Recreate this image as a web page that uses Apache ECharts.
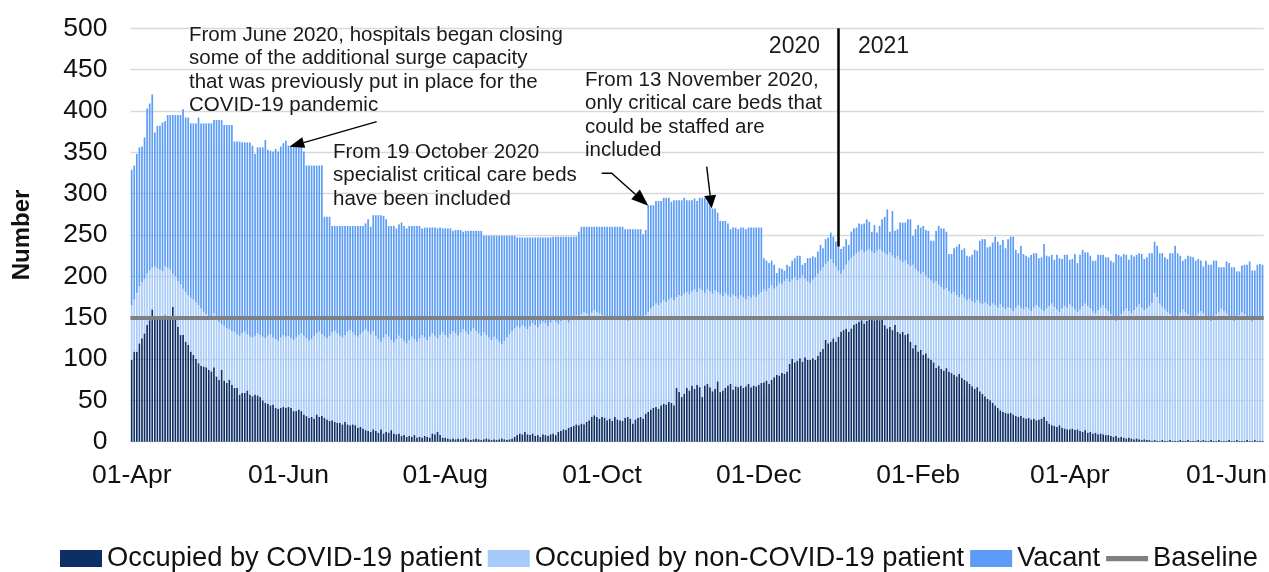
<!DOCTYPE html>
<html>
<head>
<meta charset="utf-8">
<title>Critical care beds</title>
<script src="https://cdn.jsdelivr.net/npm/echarts@6/dist/echarts.min.js"></script>
<style>
  html, body { margin: 0; padding: 0; background: #fff; }
  #chart { width: 1269px; height: 572px; }
</style>
</head>
<body>
<div id="chart"></div>
<script>
// first day of the daily series, and the month labels shown on the x axis
const startDate = [2020, 3, 1];
const tickLabels = ["01-Apr", "01-Jun", "01-Aug", "01-Oct", "01-Dec", "01-Feb"];
const baselineValue = 150;

// beds occupied by COVID-19 patients (one line per month, Apr 2020 - Jun 2021)
const covid = [
  99,109,109,119,125,131,141,147,160,149,150,152,151,153,150,148,163,150,139,129,129,121,117,109,105,100,95,92,91,90,
  87,85,90,79,75,87,74,71,75,69,65,65,57,59,59,62,57,55,57,56,54,50,47,46,44,45,41,40,41,42,41,
  42,41,37,37,39,37,33,31,29,30,28,33,30,31,29,27,25,26,24,23,23,21,24,21,20,21,20,17,18,16,
  14,13,12,15,13,11,15,10,12,11,14,10,9,10,7,8,6,7,6,8,5,6,5,7,6,5,10,9,12,8,5,
  5,4,3,4,3,4,3,4,5,3,2,3,4,3,2,3,4,3,2,3,2,3,4,3,2,3,4,6,8,10,9,
  12,9,8,10,7,8,6,9,8,7,9,10,8,12,13,15,14,17,18,19,21,20,22,21,24,26,30,32,30,28,
  30,29,26,28,25,30,27,26,25,29,30,28,22,27,29,30,28,34,36,39,41,42,40,44,46,45,48,47,44,65,60,
  54,58,65,62,68,64,69,66,54,68,70,66,61,64,73,60,62,65,68,70,63,67,66,68,65,67,70,66,68,67,
  69,71,72,74,70,75,78,81,80,83,82,85,94,100,96,98,101,97,102,99,99,101,99,104,109,112,123,119,121,125,121,
  127,133,135,137,133,137,141,143,145,147,143,146,148,149,147,150,147,149,141,137,139,135,141,133,131,133,129,131,121,113,117,
  109,111,105,107,101,99,96,89,92,88,86,89,85,83,81,79,82,77,75,73,70,67,64,66,61,58,55,52,
  50,47,44,41,38,36,35,34,35,33,31,30,31,29,28,29,27,28,26,27,28,30,25,22,20,19,18,20,17,16,15,
  15,16,14,15,13,12,14,11,12,10,11,9,10,9,8,8,7,6,7,5,6,5,4,5,4,3,4,3,2,3,
  2,2,1,2,1,1,2,1,1,2,1,1,1,2,1,1,2,1,1,1,2,1,2,1,1,2,1,1,2,1,1,
  1,2,1,1,2,1,1,1,2,1,1,2,1,1,1
];

// all occupied beds (COVID-19 + non-COVID-19)
const occupied = [
  165,172,180,188,193,197,203,207,211,212,210,208,206,212,210,208,203,200,194,190,185,181,177,174,172,169,165,161,157,154,
  152,150,155,148,145,142,140,137,136,134,133,130,128,131,133,130,127,126,128,131,129,127,125,128,130,126,124,122,126,129,127,
  128,125,123,126,129,131,128,125,122,124,128,131,133,130,127,125,128,132,134,131,128,126,129,133,135,132,129,127,130,133,
  136,133,130,134,128,124,121,126,130,127,123,120,124,128,125,122,119,123,127,124,121,125,129,126,123,127,131,128,125,129,132,
  129,126,130,134,131,128,132,136,133,130,134,137,134,131,128,132,129,126,123,127,124,121,118,122,126,130,134,137,140,138,141,
  139,136,140,143,141,138,142,145,143,140,144,147,145,142,146,149,147,144,148,151,153,150,154,157,155,152,156,159,157,155,
  153,150,152,149,151,148,150,147,152,150,146,149,151,148,150,147,149,153,157,161,164,167,165,168,171,169,172,174,171,175,177,
  176,179,181,178,182,184,181,185,183,180,184,182,179,183,181,178,176,180,177,175,178,176,173,177,175,172,176,174,177,175,
  178,181,184,182,186,189,185,188,192,190,194,197,193,196,199,195,198,201,197,194,192,196,199,203,207,211,215,218,221,216,212,
  207,203,208,214,219,222,225,228,230,232,229,231,233,230,228,231,233,230,228,226,229,225,222,224,220,217,219,215,212,214,209,
  206,203,205,201,198,195,192,194,190,187,184,186,182,179,181,177,175,178,174,171,173,170,168,171,168,166,169,166,
  164,167,165,162,166,163,160,163,161,158,162,165,162,160,163,161,158,162,165,163,160,158,161,164,167,163,160,157,161,164,162,
  166,163,160,157,160,164,167,164,161,158,155,159,162,165,161,158,154,150,146,150,154,158,161,158,155,159,163,166,162,159,
  161,164,168,180,175,167,163,160,157,154,151,148,152,156,160,157,154,150,147,151,155,158,155,152,149,146,150,154,157,161,158,
  155,152,149,146,150,153,157,154,151,148,145,149,152,147,150
];

// total critical care beds (occupied + vacant)
const capacity = [
  329,334,348,356,357,368,403,409,420,374,382,382,386,388,395,395,395,395,395,395,402,392,392,385,385,385,392,385,385,385,
  385,385,389,389,389,389,383,383,383,383,363,363,363,362,362,362,362,358,348,356,356,356,365,353,352,351,354,351,357,361,364,
  358,357,357,357,357,357,351,334,334,334,334,334,334,334,272,272,272,261,261,261,261,261,261,261,261,261,261,261,261,261,
  264,269,260,274,274,274,274,273,269,261,261,261,258,263,265,261,258,261,261,261,261,261,258,259,259,259,259,259,258,259,258,
  258,258,258,255,256,256,256,254,255,255,255,255,255,255,255,249,249,249,249,249,249,249,249,249,249,249,249,249,247,247,247,
  247,247,247,247,247,247,247,247,247,247,247,248,248,248,248,248,248,248,248,248,248,254,260,260,260,260,260,260,260,260,
  260,260,260,260,260,260,260,260,260,257,257,257,257,257,257,257,251,256,286,286,286,291,291,291,295,295,295,290,292,292,292,
  292,295,292,292,292,294,291,295,295,295,290,287,282,282,277,267,267,267,264,257,259,259,257,259,259,257,259,259,259,259,
  259,259,222,219,216,219,214,204,210,209,207,214,212,219,222,225,225,214,216,222,222,224,223,230,238,234,245,247,253,248,242,
  236,233,236,245,238,254,258,259,264,263,264,269,266,254,262,253,261,269,272,281,254,279,255,257,265,265,265,269,269,249,257,
  262,259,261,256,255,243,243,255,261,258,258,254,227,227,234,236,239,232,234,225,224,226,232,231,243,245,245,235,
  236,241,248,242,238,244,234,245,248,248,232,228,237,227,225,223,226,228,228,222,223,239,225,224,226,220,226,222,221,226,226,
  220,221,227,216,226,232,229,229,225,219,219,226,226,226,223,223,219,217,227,226,224,227,226,220,226,224,226,228,227,221,
  223,228,228,242,237,228,228,223,221,228,228,237,228,225,219,221,225,224,223,219,221,219,212,219,214,214,219,219,211,211,211,
  218,216,211,211,206,206,213,214,214,218,207,207,214,215,214
];

const MONTHS = ["Jan","Feb","Mar","Apr","May","Jun","Jul","Aug","Sep","Oct","Nov","Dec"];
const FONT = '"Liberation Sans", Arial, sans-serif';

function buildDays(n) {
    const days = [];
    for (let i = 0; i < n; i++) {
        const d = new Date(Date.UTC(startDate[0], startDate[1], startDate[2] + i));
        const dd = String(d.getUTCDate()).padStart(2, "0");
        days.push(`${dd}-${MONTHS[d.getUTCMonth()]}-${d.getUTCFullYear()}`);
    }
    return days;
}

// line with a filled triangular head at the last point
function arrow(points, headLen, headWidth) {
    const n = points.length;
    const [x1, y1] = points[n - 2];
    const [x2, y2] = points[n - 1];
    const len = Math.hypot(x2 - x1, y2 - y1);
    const ux = (x2 - x1) / len, uy = (y2 - y1) / len;
    const bx = x2 - ux * headLen, by = y2 - uy * headLen;
    const px = -uy * headWidth / 2, py = ux * headWidth / 2;
    const shaft = points.slice(0, n - 1).concat([[bx, by]]);
    return [
        { type: "polyline", shape: { points: shaft }, style: { stroke: "#000", lineWidth: 1.4, fill: null }, z: 20 },
        { type: "polygon", shape: { points: [[x2, y2], [bx + px, by + py], [bx - px, by - py]] }, style: { fill: "#000" }, z: 20 }
    ];
}

function note(text, x, y) {
    return {
        type: "text", x: x, y: y, z: 20,
        style: { text: text, font: `20.5px ${FONT}`, fill: "#1a1a1a", lineHeight: 23.5, verticalAlign: "top" }
    };
}

function drawChart(id) {
    const days = buildDays(capacity.length);
    const nonCovid = occupied.map((v, i) => v - covid[i]);
    const vacant = capacity.map((v, i) => v - occupied[i]);
    const newYear = days.indexOf("01-Jan-2021");
    const showTick = (i, v) => tickLabels.includes(v.slice(0, 6));

    const myChart = echarts.init(document.getElementById(id));
    const option = {
        animation: false,
        grid: {
            left: 130.4, right: 5.2, top: 28.3, bottom: 130.3,
            containLabel: false, outerBoundsMode: "none"
        },
        legend: {
            left: 60, top: 545, width: 1209, padding: 0,
            itemWidth: 42, itemHeight: 17, itemGap: 6,
            textStyle: { fontFamily: FONT, fontSize: 27.3, color: "#111" },
            data: [
                { name: "Occupied by COVID-19 patient", icon: "rect" },
                { name: "Occupied by non-COVID-19 patient", icon: "rect" },
                { name: "Vacant", icon: "rect" },
                { name: "Baseline", icon: "path://M0,0 L36,0 L36,4.5 L0,4.5 Z" }
            ]
        },
        xAxis: {
            type: "category",
            data: days,
            axisLine: { lineStyle: { color: "#d0d0d0" } },
            axisTick: { alignWithLabel: true, interval: showTick, length: 5, lineStyle: { color: "#c8c8c8" } },
            axisLabel: {
                interval: showTick, margin: 20, hideOverlap: false,
                fontFamily: FONT, fontSize: 26.5, color: "#111",
                formatter: v => v.slice(0, 6)
            }
        },
        yAxis: {
            type: "value",
            min: 0, max: 500, interval: 50,
            name: "Number", nameLocation: "middle", nameGap: 96, nameRotate: 90,
            nameTextStyle: { fontFamily: FONT, fontSize: 24, fontWeight: "bold", color: "#111" },
            axisLabel: { margin: 23, fontFamily: FONT, fontSize: 26.5, color: "#111" },
            splitLine: { lineStyle: { color: "#d9d9d9", width: 1.3 } }
        },
        series: [
            {
                name: "Occupied by COVID-19 patient", type: "bar", stack: "beds",
                barCategoryGap: "35%", itemStyle: { color: "#0e2f66" }, data: covid
            },
            {
                name: "Occupied by non-COVID-19 patient", type: "bar", stack: "beds",
                barCategoryGap: "35%", itemStyle: { color: "#a6caf9" }, data: nonCovid
            },
            {
                name: "Vacant", type: "bar", stack: "beds",
                barCategoryGap: "35%", itemStyle: { color: "#5b9cf6" }, data: vacant
            },
            {
                name: "Baseline", type: "line", symbol: "none",
                lineStyle: { color: "#808080", width: 4 },
                itemStyle: { color: "#808080" },
                data: [],
                markLine: {
                    silent: true, symbol: "none", label: { show: false },
                    data: [
                        { yAxis: baselineValue, lineStyle: { color: "#808080", width: 4, type: "solid" } },
                        [
                            { coord: [newYear, 500], lineStyle: { color: "#000", width: 2.5, type: "solid" } },
                            { coord: [newYear, 236] }
                        ]
                    ]
                }
            }
        ],
        graphic: [
            note("From June 2020, hospitals began closing\nsome of the additional surge capacity\nthat was previously put in place for the\nCOVID-19 pandemic", 189, 23.3),
            note("From 19 October 2020\nspecialist critical care beds\nhave been included", 333, 140.3),
            note("From 13 November 2020,\nonly critical care beds that\ncould be staffed are\nincluded", 585, 68.3),
            { type: "text", x: 820, y: 46.7, z: 20,
              style: { text: "2020", font: `23px ${FONT}`, fill: "#1a1a1a", align: "right", verticalAlign: "middle" } },
            { type: "text", x: 858, y: 46.7, z: 20,
              style: { text: "2021", font: `23px ${FONT}`, fill: "#1a1a1a", align: "left", verticalAlign: "middle" } },
            ...arrow([[376.7, 121.7], [289.3, 146.7]], 15, 11),
            ...arrow([[601.7, 173.3], [611.7, 173.3], [648.3, 205.7]], 17, 13),
            ...arrow([[706.7, 166.7], [711.7, 208.3]], 13, 12)
        ]
    };
    myChart.setOption(option);
}

drawChart("chart");
</script>
</body>
</html>
